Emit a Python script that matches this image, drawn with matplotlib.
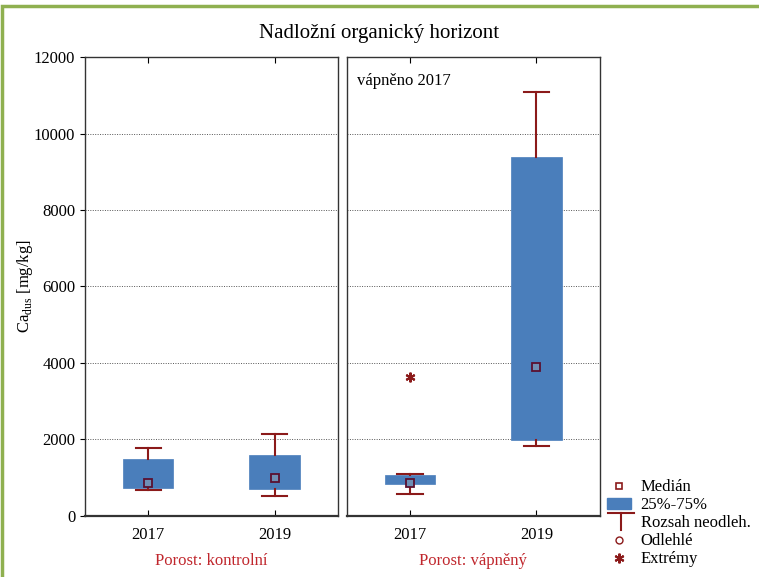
import matplotlib.pyplot as plt
from matplotlib.lines import Line2D
from matplotlib.patches import Patch, Rectangle

plt.rcParams['font.family'] = ['Liberation Serif', 'DejaVu Serif']
plt.rcParams['mathtext.fontset'] = 'custom'
plt.rcParams['mathtext.rm'] = 'Liberation Serif'

years = ['2017', '2019']
panels = ['Porost: kontrolní', 'Porost: vápněný']

# values, one list per panel (2017, 2019)
median = [[855, 985], [855, 3905]]
q1 = [[740, 700], [835, 1990]]
q3 = [[1490, 1595], [1070, 9400]]
whis_lo = [[670, 515], [560, 1830]]
whis_hi = [[1770, 2135], [1090, 11080]]
extremes = [[[], []], [[3630], []]]

BOX = '#4a7ebb'
RED = '#8b1a1a'
LABEL_RED = '#c0272d'

fig = plt.figure(figsize=(7.59, 5.77), dpi=100)
fig.suptitle('Nadložní organický horizont', y=0.958, fontsize=15)

axes = [fig.add_axes([0.112, 0.106, 0.333, 0.795]),
        fig.add_axes([0.457, 0.106, 0.333, 0.795])]

for p, ax in enumerate(axes):
    stats = []
    for i, yr in enumerate(years):
        stats.append(dict(med=median[p][i], q1=q1[p][i], q3=q3[p][i],
                          whislo=whis_lo[p][i], whishi=whis_hi[p][i],
                          fliers=[], label=yr))
    ax.bxp(stats, positions=[0, 1], widths=0.4, patch_artist=True,
           showfliers=False,
           boxprops=dict(facecolor=BOX, edgecolor=BOX, linewidth=0.5),
           whiskerprops=dict(color=RED, linewidth=1.5),
           capprops=dict(color=RED, linewidth=1.5),
           capwidths=0.2,
           medianprops=dict(linewidth=0), zorder=3)
    ax.plot([0, 1], median[p], ls='none', marker='s', ms=6,
            mfc='#6f8fb5', mec='#5a1030', mew=1.3, zorder=4)
    for i in range(2):
        if extremes[p][i]:
            ax.plot([i] * len(extremes[p][i]), extremes[p][i], ls='none',
                    marker=(6, 2, 0), ms=7, color=RED, mew=1.5, zorder=4)
    ax.set_xlim(-0.5, 1.5)
    ax.set_ylim(0, 12000)
    ax.set_yticks(range(0, 12001, 2000))
    ax.grid(axis='y', color='#555555', linestyle=(0, (1, 1.5)), linewidth=0.7)
    ax.set_axisbelow(True)
    ax.tick_params(axis='x', direction='in', top=True, labelsize=12, pad=8,
                   length=4)
    ax.tick_params(axis='y', labelsize=12)
    for s in ax.spines.values():
        s.set_linewidth(1.0)
        s.set_color('#333333')
    ax.spines['bottom'].set_linewidth(1.6)
    ax.set_xlabel(panels[p], color=LABEL_RED, fontsize=12, labelpad=7)

axes[0].set_ylabel(r'Ca$_{\mathrm{dus}}$ [mg/kg]', fontsize=12, labelpad=-1)
axes[1].tick_params(axis='y', left=False, labelleft=False)
axes[1].text(0.04, 0.965, 'vápněno 2017', transform=axes[1].transAxes,
             fontsize=12, va='top')

handles = [
    Line2D([], [], ls='none', marker='s', ms=5, mfc='white', mec=RED, mew=1.2),
    Patch(facecolor=BOX, edgecolor=BOX),
    Line2D([], [], ls='none', marker='s', ms=0),
    Line2D([], [], ls='none', marker='o', ms=5, mfc='white', mec=RED, mew=1.0),
    Line2D([], [], ls='none', marker=(6, 2, 0), ms=7, color=RED, mew=1.5),
]
labels = ['Medián', '25%-75%', 'Rozsah neodleh.', 'Odlehlé', 'Extrémy']
leg = fig.legend(handles, labels, loc='lower left',
                 bbox_to_anchor=(0.800, 0.017), frameon=False, fontsize=12,
                 handlelength=1.4, handleheight=0.6, handletextpad=0.6,
                 labelspacing=0.12, borderpad=0, borderaxespad=0)

# whisker symbol for the legend, drawn by hand next to its entry
fig.canvas.draw()
W, H = fig.bbox.width, fig.bbox.height
bb = leg.get_texts()[2].get_window_extent()
yc = (bb.y0 + bb.y1) / 2
xl = bb.x0 - 33
fig.add_artist(Line2D([xl / W, (xl + 26) / W], [(yc + 10) / H] * 2,
                      color=RED, lw=1.5, transform=fig.transFigure))
fig.add_artist(Line2D([(xl + 13) / W] * 2, [(yc + 10) / H, (yc - 7) / H],
                      color=RED, lw=1.5, transform=fig.transFigure))

# green page frame
fig.add_artist(Rectangle((0.002, -0.01), 1.2, 0.999, fill=False,
                         edgecolor='#8fb050', lw=2.5,
                         transform=fig.transFigure))

fig.savefig('out.png', dpi=100)
